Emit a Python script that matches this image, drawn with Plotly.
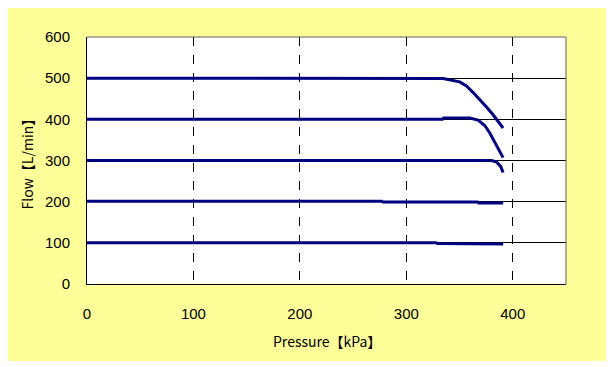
import plotly.graph_objects as go

# ---- data ----
p500 = [0, 334.6, 350.2, 356.5, 362.8, 369.0, 375.3, 381.5, 386.2, 390.9]
f500 = [500, 499, 491, 481, 465, 448, 430, 411, 394, 379]

p400 = [0, 334.0, 335.0, 359.6, 367.4, 373.7, 378.4, 383.0, 387.2, 390.9]
f400 = [400, 400, 403, 403, 398, 385, 367, 346, 325, 307]

p300 = [0, 380.2, 384.9, 388.7, 390.9]
f300 = [300, 300, 296, 285, 271]

p200 = [0, 277, 278, 367, 368, 391]
f200 = [201, 201, 199, 199, 197, 197]

p100 = [0, 328, 329, 361, 362, 391]
f100 = [100.5, 100.5, 98.5, 98.5, 97, 97]

series = [(p500, f500), (p400, f400), (p300, f300), (p200, f200), (p100, f100)]

x_ticks = [0, 100, 200, 300, 400]
y_ticks = [0, 100, 200, 300, 400, 500, 600]
x_title = "Pressure【kPa】"
y_title = "Flow【L/min】"

# page body has an 8px margin; figure sits at (8, 8)
W, H = 600, 353
L, R, T, B = 79, 42, 29, 77

fig = go.Figure()
for px_, fy in series:
    fig.add_trace(go.Scatter(x=px_, y=fy, mode="lines",
                             line=dict(color="#000080", width=3),
                             showlegend=False, hoverinfo="skip"))

tick_font = dict(family="Liberation Sans, Arial, sans-serif", size=15, color="black")
title_font = dict(family="Noto Sans CJK JP, sans-serif", size=14, color="black")

fig.update_layout(
    width=W, height=H,
    margin=dict(l=L, r=R, t=T, b=B, autoexpand=False),
    paper_bgcolor="#FFFF99",
    plot_bgcolor="white",
    showlegend=False,
    shapes=[
        dict(type="line", xref="paper", yref="paper",
             x0=0, x1=1, y0=1, y1=1, line=dict(color="#606060", width=1)),
        dict(type="line", xref="paper", yref="paper",
             x0=1, x1=1, y0=0, y1=1, line=dict(color="#606060", width=1)),
    ],
    annotations=[
        dict(text=x_title, xref="paper", yref="paper", x=0.5, y=0,
             xanchor="center", yanchor="middle", yshift=-(341 - 284),
             showarrow=False, font=title_font),
        dict(text=y_title, xref="paper", yref="paper", x=0, y=0.5,
             xanchor="center", yanchor="middle", xshift=-(87 - 26),
             textangle=-90, showarrow=False, font=title_font),
    ],
)

fig.update_xaxes(range=[0, 450], tickvals=x_ticks, showgrid=True,
                 gridcolor="black", griddash="dash", gridwidth=1,
                 showline=True, linecolor="black", linewidth=1,
                 zeroline=False, ticks="", ticklabelstandoff=16,
                 tickfont=tick_font, fixedrange=True)
fig.update_yaxes(range=[0, 600], tickvals=y_ticks, showgrid=True,
                 gridcolor="black", gridwidth=1,
                 showline=True, linecolor="black", linewidth=1,
                 zeroline=False, ticks="", ticklabelstandoff=13,
                 tickfont=tick_font, fixedrange=True)

fig.write_html("out.html")
